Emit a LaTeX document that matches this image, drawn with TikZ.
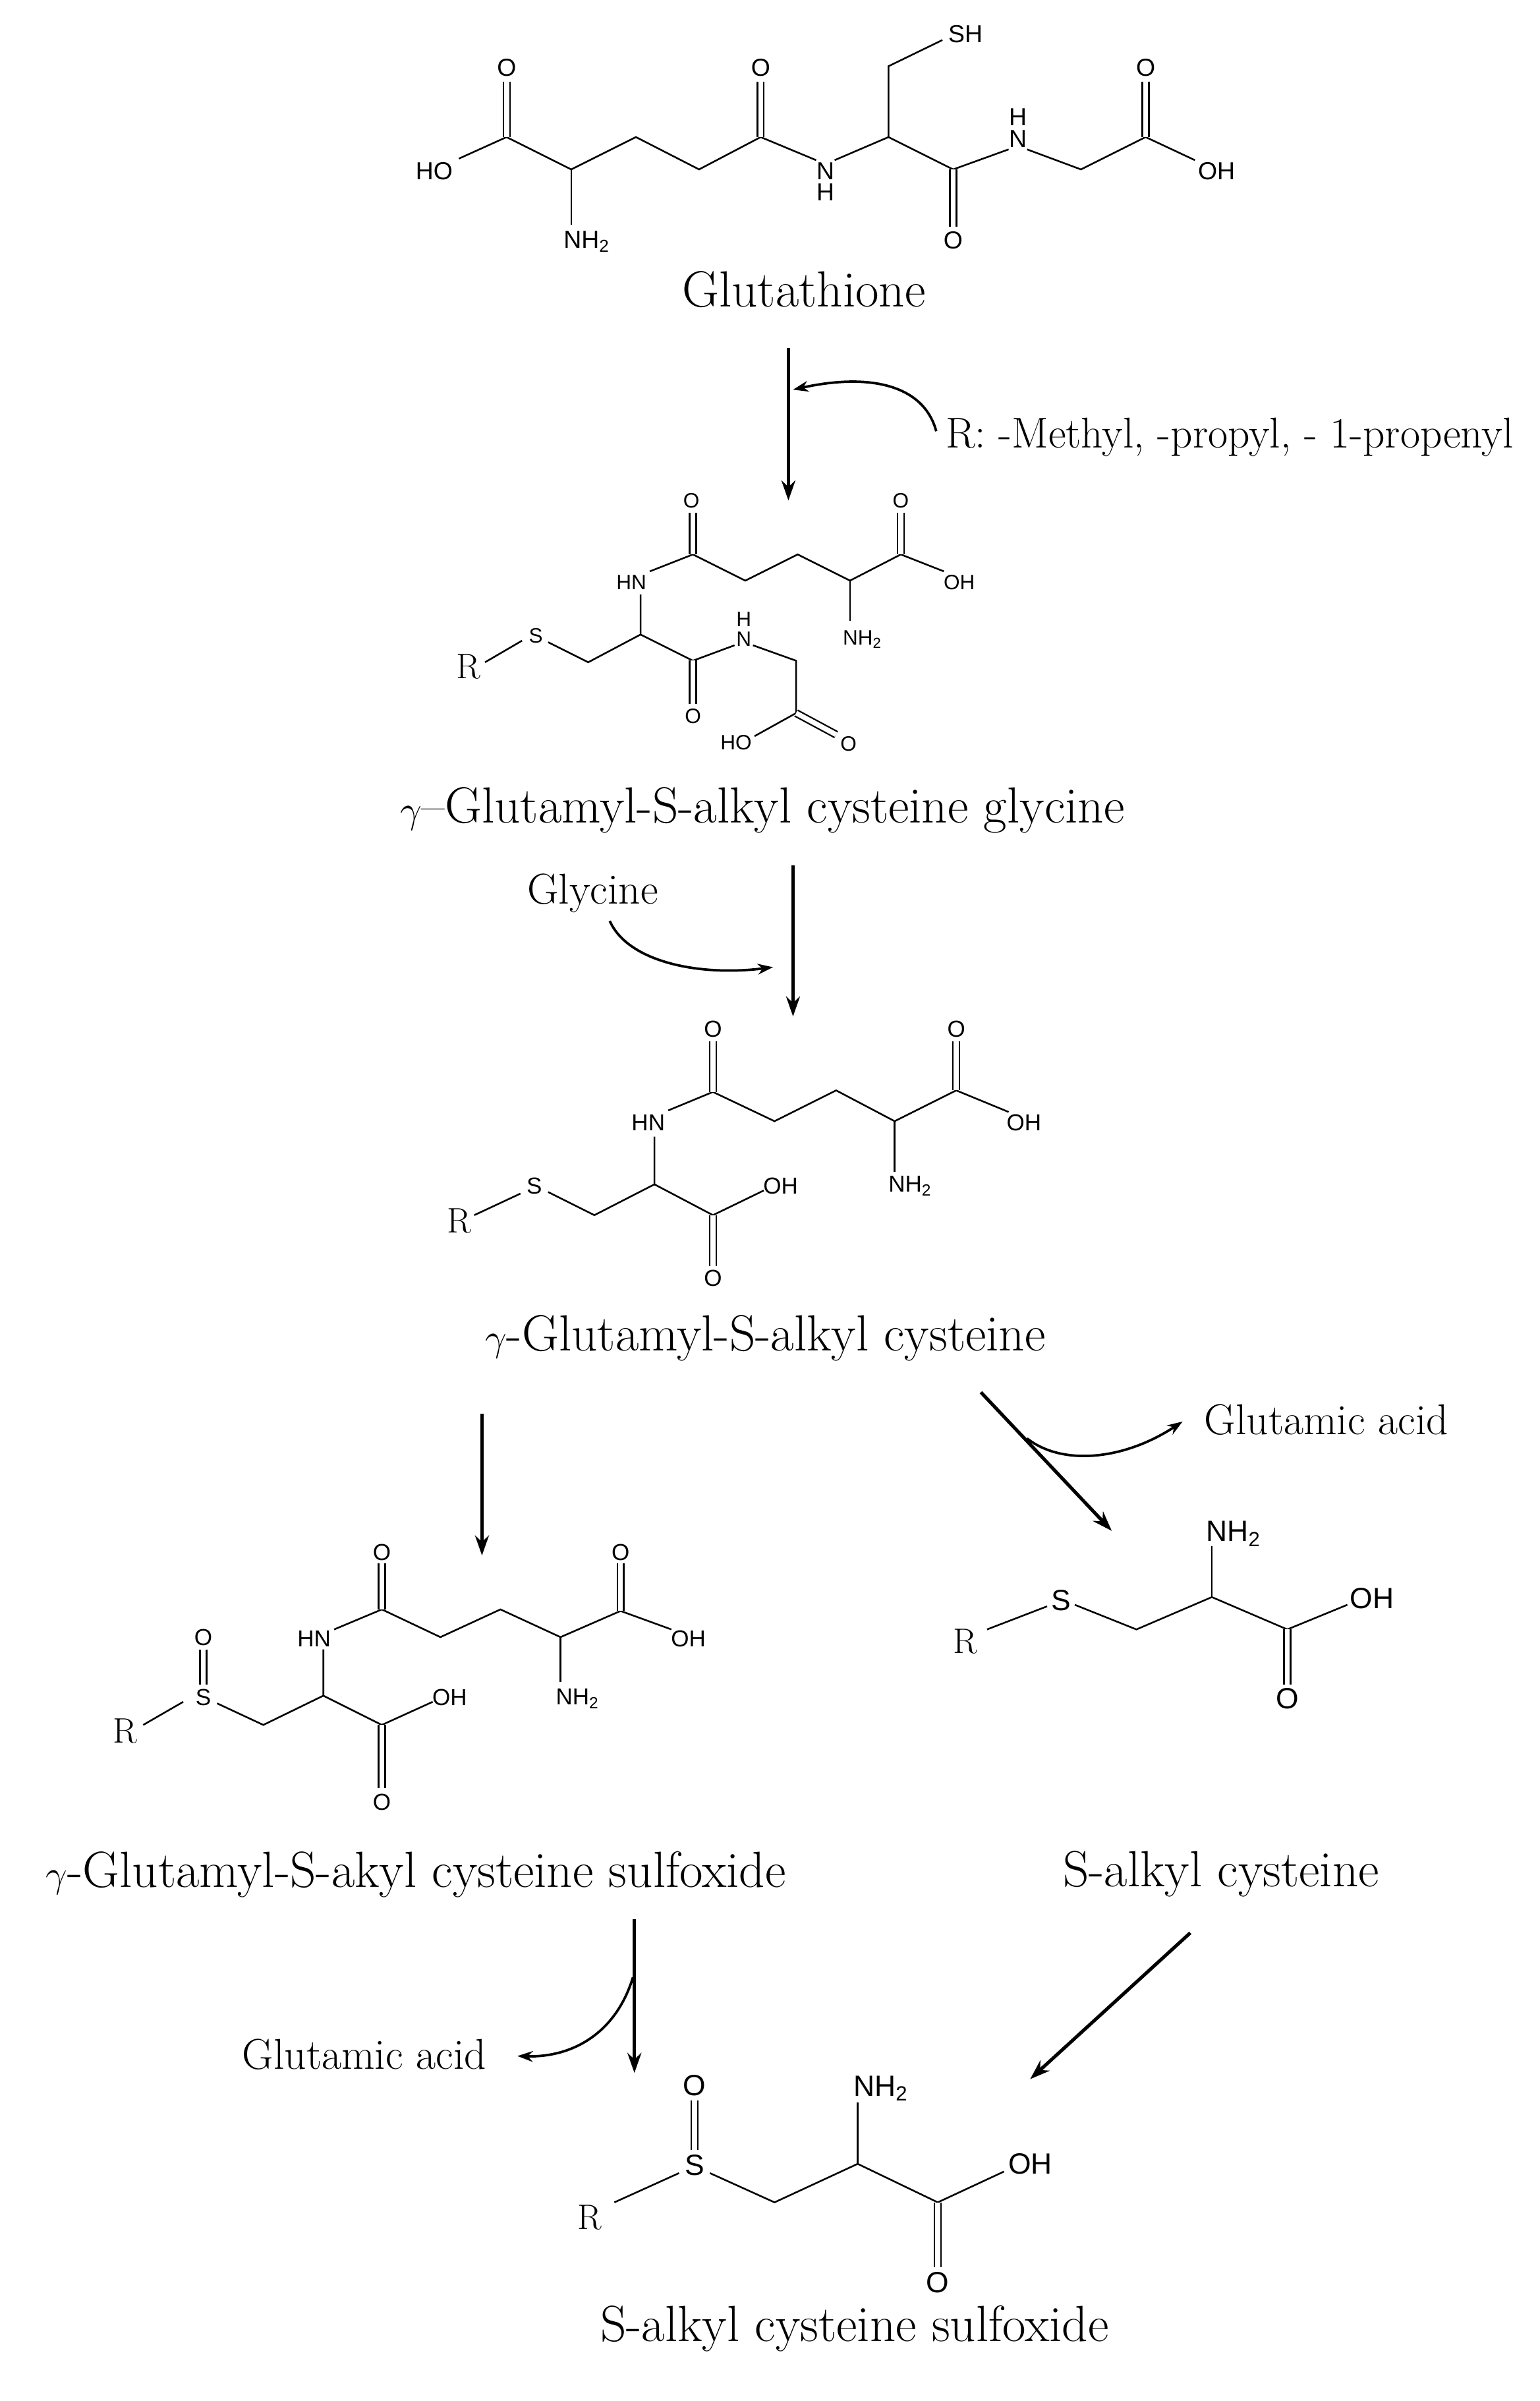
\documentclass[tikz,border=0pt]{standalone}
\usepackage{fontspec}
\setsansfont{Liberation Sans}
\usetikzlibrary{arrows.meta}
\tikzset{
  bond/.style={line width=1.1pt},
  dbl/.style={line width=1pt,double,double distance=3.2pt},
  rxn/.style={line width=2.2pt,-{Stealth[length=13pt,width=9pt]}},
  side/.style={line width=1.6pt,-{Stealth[length=10pt,width=7pt]}},
  at1/.style={inner sep=0pt,font=\fontsize{16}{16}\sffamily},
  at2/.style={inner sep=0pt,font=\fontsize{13.5}{14}\sffamily},
  at3/.style={inner sep=0pt,font=\fontsize{15}{15}\sffamily},
  at5/.style={inner sep=0pt,font=\fontsize{19}{19}\sffamily},
  rr/.style={inner sep=0pt,font=\fontsize{23}{23}\selectfont},
  captxt/.style={inner sep=0pt,font=\fontsize{33}{34}\selectfont},
  smalltxt/.style={inner sep=0pt,font=\fontsize{28}{29}\selectfont},
}
\begin{document}
\begin{tikzpicture}[x=1pt,y=-1pt]
\useasboundingbox (0,0) rectangle (1000,1559);
% ===== Glutathione =====
\node[at1] (g_ho) at (282,111) {HO};
\node[at1] (g_o1) at (329,44) {O};
\node[at1] (g_nh2) at (381,157) {NH\textsubscript{2}};
\node[at1] (g_o2) at (494,44) {O};
\node[at1] (g_n) at (536,111) {N};
\node[at1] (g_h) at (536,125) {H};
\node[at1] (g_sh) at (627,22) {SH};
\node[at1] (g_o3) at (619,156) {O};
\node[at1] (g_n2) at (661,90) {N};
\node[at1] (g_h2) at (661,76) {H};
\node[at1] (g_o4) at (744,44) {O};
\node[at1] (g_oh) at (790,111) {OH};
\draw[bond] (298,103) -- (329,89) -- (371,110) -- (413,89) -- (454,110) -- (494,89) -- (530,104);
\draw[bond] (542,104) -- (577,89) -- (619,110) -- (655,97);
\draw[bond] (667,97) -- (702,110) -- (744,89) -- (776,104);
\draw[bond] (371,110) -- (371,146);
\draw[bond] (577,89) -- (577,43) -- (612,26);
\draw[dbl] (329,53) -- (329,89);
\draw[dbl] (494,53) -- (494,89);
\draw[dbl] (619,110) -- (619,147);
\draw[dbl] (744,53) -- (744,89);
\node[captxt] (t1) at (522,188) {Glutathione};
% ===== Arrow 1 =====
\coordinate (a1s) at (512,226);
\coordinate (a1e) at (512,325);
\draw[rxn] (a1s) -- (a1e);
\node[smalltxt,anchor=west] (rtext) at (614,284) {R: -Methyl, -propyl, - 1-propenyl};
\coordinate (c1s) at (608,280);
\coordinate (c1e) at (515,253);
\draw[side] (c1s) .. controls (600,250) and (565,242) .. (c1e);
% ===== Structure 2 =====
\node[at2] (b_o1) at (449,325) {O};
\node[at2] (b_hn) at (410,378) {HN};
\node[at2] (b_o2) at (585,325) {O};
\node[at2] (b_oh) at (623,378) {OH};
\node[at2] (b_nh2) at (560,415) {NH\textsubscript{2}};
\node[at2] (b_s) at (348,413) {S};
\node[rr] (b_r) at (304,433) {R};
\node[at2] (b_o3) at (450,465) {O};
\node[at2] (b_n) at (483,415) {N};
\node[at2] (b_h) at (483,402) {H};
\node[at2] (b_ho) at (478,482) {HO};
\node[at2] (b_o4) at (551,483) {O};
\draw[bond] (422,371) -- (450,360) -- (484,377) -- (518,360) -- (552,377) -- (585,360) -- (613,371);
\draw[bond] (552,377) -- (552,403);
\draw[bond] (416,386) -- (416,412) -- (382,430) -- (356,417);
\draw[bond] (339,416) -- (315,430);
\draw[bond] (416,412) -- (450,429) -- (477,419);
\draw[bond] (489,419) -- (517,429) -- (517,463) -- (490,478);
\draw[dbl] (450,333) -- (450,360);
\draw[dbl] (585,333) -- (585,360);
\draw[dbl] (450,429) -- (450,457);
\draw[dbl] (517,463) -- (543,477);
\node[captxt] (t2) at (495,526) {$\gamma$--Glutamyl-S-alkyl cysteine glycine};
% ===== Arrow 2 =====
\draw[rxn] (515,562) -- (515,660);
\node[smalltxt] (gly) at (385,580) {Glycine};
\draw[side] (396,598) .. controls (408,625) and (455,634) .. (502,628);
% ===== Structure 3 =====
\node[at3] (c_o1) at (463,668) {O};
\node[at3] (c_hn) at (421,729) {HN};
\node[at3] (c_o2) at (621,668) {O};
\node[at3] (c_oh) at (665,729) {OH};
\node[at3] (c_nh2) at (591,770) {NH\textsubscript{2}};
\node[at3] (c_s) at (347,770) {S};
\node[rr] (c_r) at (298,793) {R};
\node[at3] (c_o3) at (463,830) {O};
\node[at3] (c_oh2) at (507,770) {OH};
\draw[bond] (434,721) -- (463,709) -- (503,728) -- (543,708) -- (581,728) -- (621,708) -- (655,722);
\draw[bond] (581,728) -- (581,761);
\draw[bond] (425,738) -- (425,769) -- (386,789) -- (356,774);
\draw[bond] (338,775) -- (308,789);
\draw[bond] (425,769) -- (463,789) -- (496,773);
\draw[dbl] (463,676) -- (463,709);
\draw[dbl] (621,676) -- (621,708);
\draw[dbl] (463,789) -- (463,822);
\node[captxt] (t3) at (497,869) {$\gamma$-Glutamyl-S-alkyl cysteine};
% ===== Arrows 3,4 =====
\draw[rxn] (313,918) -- (313,1010);
\draw[rxn] (637,904) -- (722,994);
\draw[side] (667,934) .. controls (690,952) and (730,948) .. (768,923);
\node[smalltxt,anchor=west] (glu1) at (782,922) {Glutamic acid};
% ===== Structure 4 =====
\node[at3] (d_o1) at (248,1008) {O};
\node[at3] (d_hn) at (204,1064) {HN};
\node[at3] (d_o2) at (403,1008) {O};
\node[at3] (d_oh) at (447,1064) {OH};
\node[at3] (d_nh2) at (375,1103) {NH\textsubscript{2}};
\node[at3] (d_s) at (132,1102) {S};
\node[at3] (d_so) at (132,1063) {O};
\node[rr] (d_r) at (81,1124) {R};
\node[at3] (d_oh2) at (292,1102) {OH};
\node[at3] (d_o3) at (248,1170) {O};
\draw[bond] (217,1058) -- (248,1045) -- (286,1063) -- (325,1045) -- (364,1063) -- (403,1046) -- (436,1058);
\draw[bond] (364,1063) -- (364,1092);
\draw[bond] (210,1071) -- (210,1101) -- (171,1120) -- (141,1106);
\draw[bond] (119,1105) -- (93,1120);
\draw[bond] (210,1101) -- (248,1120) -- (281,1105);
\draw[dbl] (248,1015) -- (248,1045);
\draw[dbl] (403,1015) -- (403,1046);
\draw[dbl] (132,1071) -- (132,1094);
\draw[dbl] (248,1120) -- (248,1161);
\node[captxt] (t4) at (270,1217) {$\gamma$-Glutamyl-S-akyl cysteine sulfoxide};
% ===== Structure 5 =====
\node[at5] (e_nh2) at (801,996) {NH\textsubscript{2}};
\node[at5] (e_s) at (689,1039) {S};
\node[rr] (e_r) at (627,1066) {R};
\node[at5] (e_oh) at (891,1038) {OH};
\node[at5] (e_o) at (836,1103) {O};
\draw[bond] (698,1042) -- (738,1058) -- (787,1037) -- (836,1058) -- (875,1042);
\draw[bond] (787,1037) -- (787,1004);
\draw[bond] (680,1043) -- (641,1058);
\draw[dbl] (836,1058) -- (836,1094);
\node[captxt] (t5) at (793,1217) {S-alkyl cysteine};
% ===== Arrows 5,6 =====
\draw[rxn] (412,1246) -- (412,1346);
\draw[side] (411,1284) .. controls (400,1320) and (372,1336) .. (336,1335);
\node[smalltxt,anchor=east] (glu2) at (316,1334) {Glutamic acid};
\draw[rxn] (773,1255) -- (669,1350);
% ===== Structure 6 =====
\node[at5] (f_o) at (451,1354) {O};
\node[at5] (f_s) at (451,1406) {S};
\node[rr] (f_r) at (383,1440) {R};
\node[at5] (f_nh2) at (572,1356) {NH\textsubscript{2}};
\node[at5] (f_oh) at (669,1405) {OH};
\node[at5] (f_o2) at (609,1482) {O};
\draw[bond] (441,1411) -- (399,1430);
\draw[bond] (461,1411) -- (503,1430) -- (557,1405) -- (609,1430) -- (652,1410);
\draw[bond] (557,1405) -- (557,1365);
\draw[dbl] (451,1364) -- (451,1396);
\draw[dbl] (609,1430) -- (609,1472);
\node[captxt] (t6) at (555,1512) {S-alkyl cysteine sulfoxide};
\end{tikzpicture}
\end{document}
